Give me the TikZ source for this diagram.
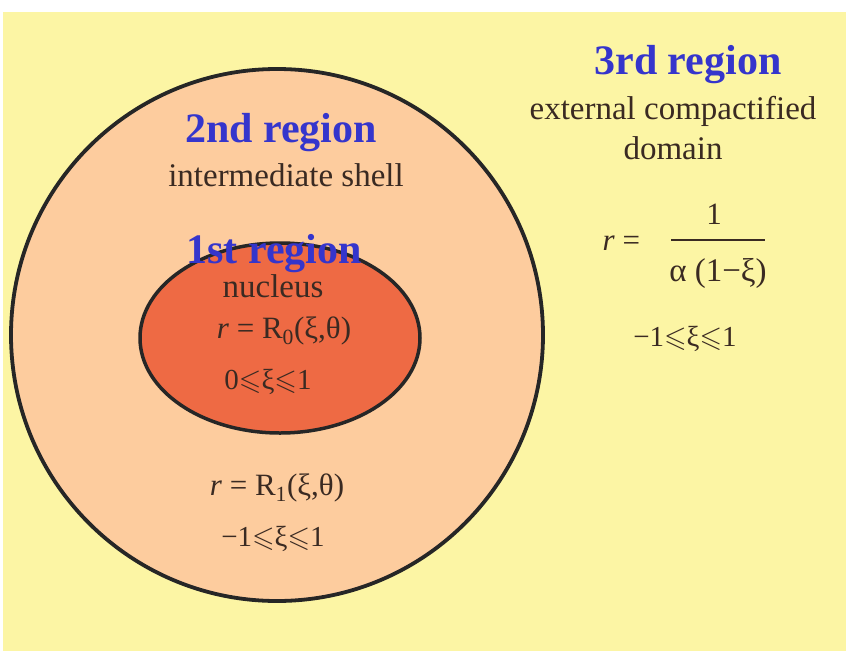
\documentclass[tikz,border=0pt]{standalone}
\usepackage{amssymb}
\usepackage{fontspec}
\setmainfont{Liberation Serif}
\usepackage{tikz}

\definecolor{bgyellow}{HTML}{FCF5A4}
\definecolor{shellpeach}{HTML}{FDCC9E}
\definecolor{nucleusred}{HTML}{EE6A44}
\definecolor{regionblue}{HTML}{3535CC}
\definecolor{textdark}{HTML}{3A2A22}

\newcommand{\lesl}{\ensuremath{\leqslant}}

\begin{document}
\begin{tikzpicture}[x=1pt, y=-1pt,
        region/.style={text=regionblue, font=\fontsize{42}{48}\selectfont\bfseries, inner sep=0pt},
        desc/.style={text=textdark, font=\fontsize{33}{40}\selectfont, align=center, inner sep=0pt},
        formula/.style={text=textdark, font=\fontsize{31}{36}\selectfont, inner sep=0pt},
        xirange/.style={formula, font=\fontsize{29}{34}\selectfont}]
        \useasboundingbox (0,0) rectangle (846,651);
        \fill[bgyellow] (3,12) rectangle (846,651);
        \filldraw[fill=shellpeach, draw=black!85, line width=3.8pt] (277,335) circle[radius=266pt];
        \filldraw[fill=nucleusred, draw=black!85, line width=3.5pt] (280,338) ellipse[x radius=140pt, y radius=95pt];

        % 3rd region
        \node[region] (third) at (688,65) {3rd region};
        \node[desc] (outer) at (673,128) {external compactified\\domain};
        \node[formula] (req) at (624,243) {\textit{r} =\,};
        \node[formula] (num) at (714,214) {1};
        \node[formula, font=\fontsize{33}{38}\selectfont] (den) at (718,273) {α (1−ξ)};
        \draw[textdark, line width=2pt] ([xshift=2pt, yshift=18pt]den.north west) -- ([xshift=-2pt, yshift=18pt]den.north east);
        \node[xirange] (outrange) at (685,339) {−1\lesl ξ\lesl 1};

        % 2nd region
        \node[region] (second) at (281,133) {2nd region};
        \node[desc] (shell) at (286,175) {intermediate shell};
        \node[formula] (rone) at (277,488) {\textit{r} = R\textsubscript{1}(ξ,θ)};
        \node[xirange] (shellrange) at (273,539) {−1\lesl ξ\lesl 1};

        % 1st region
        \node[region] (first) at (274,254) {1st region};
        \node[desc] (nucleus) at (273,286) {nucleus};
        \node[formula] (rzero) at (284,331) {\textit{r} = R\textsubscript{0}(ξ,θ)};
        \node[xirange] (nucrange) at (268,382) {0\lesl ξ\lesl 1};
    \end{tikzpicture}
\end{document}
